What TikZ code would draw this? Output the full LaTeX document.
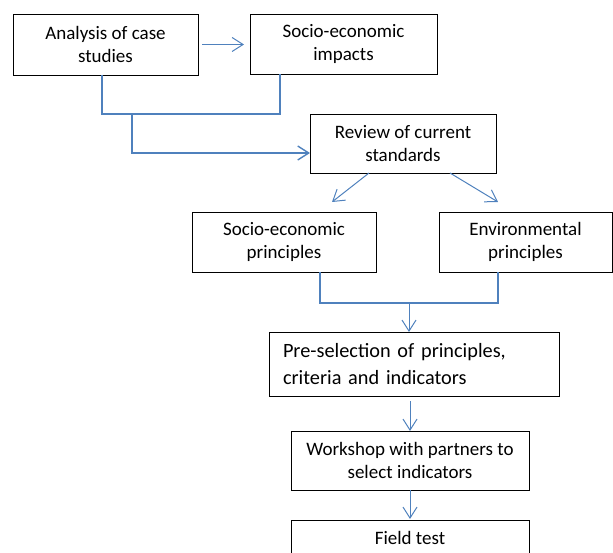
\documentclass[tikz,border=0pt]{standalone}
\usepackage{fontspec}
\setmainfont{Carlito}
\usepackage{tikz}
\usetikzlibrary{arrows.meta}
\definecolor{linkblue}{HTML}{4F81BD}

\begin{document}
\begin{tikzpicture}[x=1pt, y=-1pt,
    box/.style={draw, line width=0.9pt, align=center, inner sep=0pt, outer sep=0pt,
        font=\fontsize{19}{23}\selectfont},
    link/.style={draw=linkblue, line width=1pt, -{Straight Barb[length=11pt,width=14pt]}},
    bracket/.style={draw=linkblue, line width=1.8pt}]

    \useasboundingbox (0,0) rectangle (613,553);

    \node[box, minimum width=185, minimum height=61] (cases) at (105.5,44.5) {Analysis of case\\studies};
    \node[box, minimum width=187, minimum height=60] (impacts) at (343.5,44) {Socio-economic\\impacts};
    \node[box, minimum width=186, minimum height=59] (review) at (403,143.5) {Review of current\\standards};
    \node[box, minimum width=184, minimum height=60] (socio) at (284,242) {Socio-economic\\principles};
    \node[box, minimum width=173, minimum height=60] (env) at (525.5,242) {Environmental\\principles};
    \node[box, align=left, text width=262pt, inner xsep=14pt, minimum height=64,
        font=\fontsize{20.3}{27}\selectfont] (presel) at (414,364) {Pre-selection of principles,\\criteria and indicators};
    \node[box, minimum width=238, minimum height=59] (workshop) at (410,460.5) {Workshop with partners to\\select indicators};
    \node[box, minimum width=238, minimum height=35] (field) at (410,537.5) {Field test};

    \coordinate (join1) at (132,114);
    \coordinate (join2) at (409,303);

    \path[link, shorten <=4pt, shorten >=6pt] (cases.east) -- (cases.east -| impacts.west);
    \path[bracket] ([xshift=-3.5]cases.south) |- (join1) -| ([xshift=-63.5]impacts.south);
    \path[link, line width=1.4pt] (join1) |- ([yshift=-9.5]review.west);
    \path[link] ([xshift=-34]review.south) -- ([xshift=48,yshift=10]socio.north);
    \path[link] ([xshift=47]review.south) -- ([xshift=-27.5,yshift=10]env.north);
    \path[bracket] ([xshift=36]socio.south) |- (join2) -| ([xshift=-27.5]env.south);
    \path[link] (join2) -- (join2 |- presel.north);
    \path[link, shorten <=5pt] (presel.south -| workshop.north) -- (workshop.north);
    \path[link, shorten >=1pt] (workshop.south) -- (field.north);
\end{tikzpicture}
\end{document}
